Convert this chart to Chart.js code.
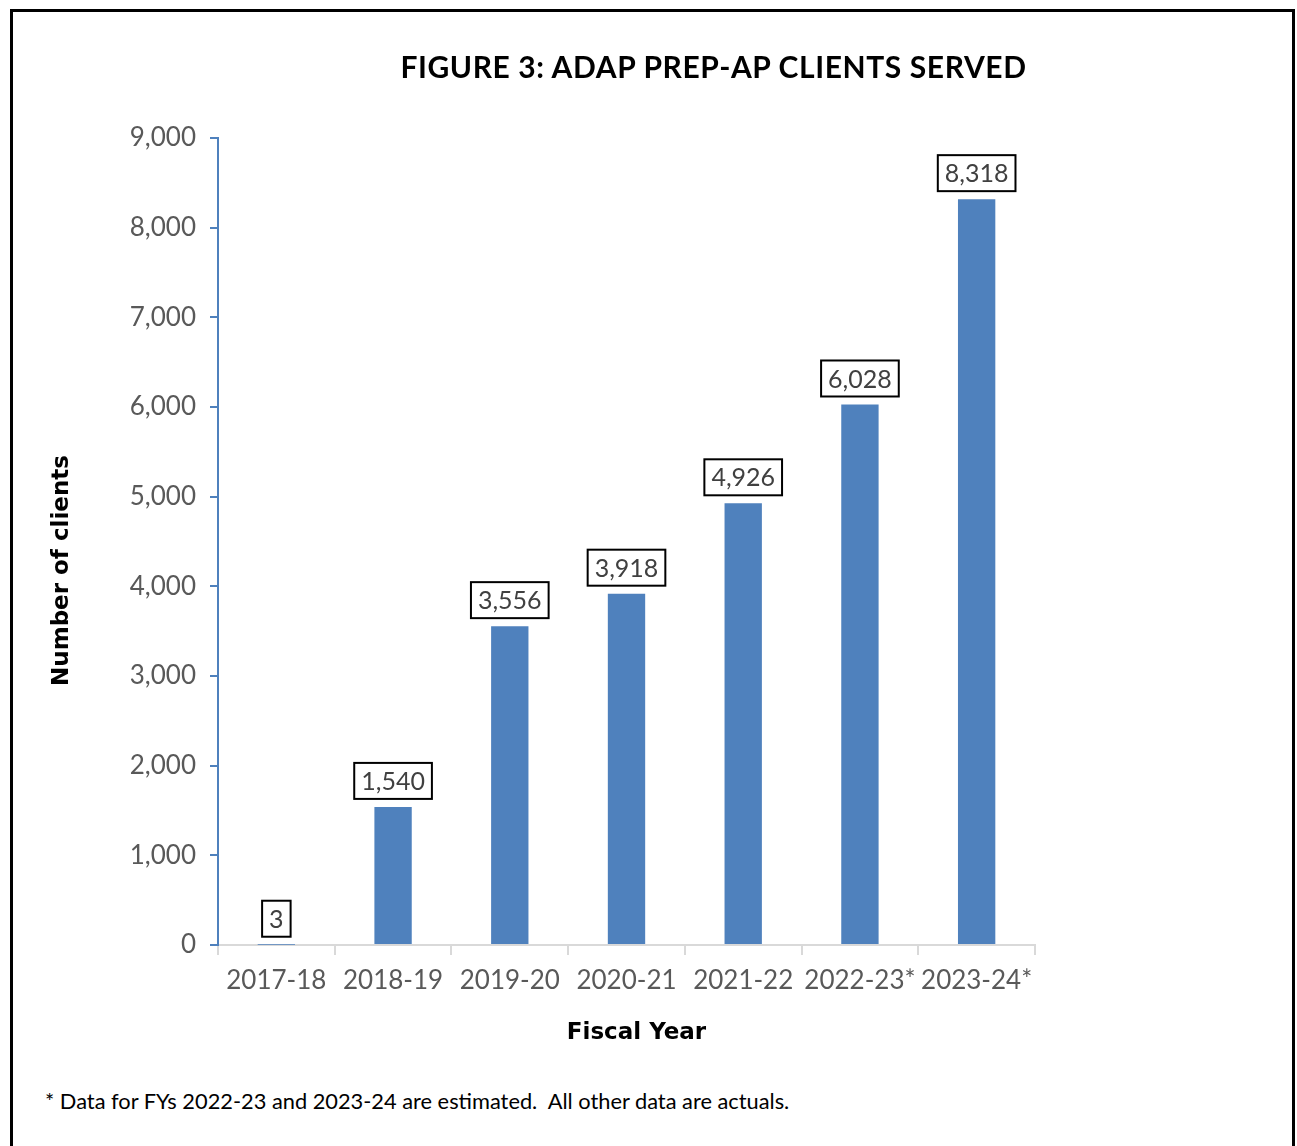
<!DOCTYPE html>
<html>
<head>
<meta charset="utf-8">
<script src="https://cdn.jsdelivr.net/npm/chart.js@4"></script>
<style>
    body { margin: 0; background: #fff; }
    #wrap { position: relative; width: 1297px; height: 1146px; overflow: hidden; }
    #frame {
        position: absolute; left: 10px; top: 9px; width: 1285px; height: 1160px;
        box-sizing: border-box; border: 3px solid #000; border-bottom: none;
    }
    #chartBox { position: absolute; left: 0; top: 0; width: 1297px; height: 1070px; }
    #title {
        position: absolute; left: 391px; top: 48px; width: 645px; text-align: center;
        font: bold 30px Lato, sans-serif; letter-spacing: 0.6px; color: #000; white-space: nowrap;
    }
    #note {
        position: absolute; left: 45px; top: 1087px; white-space: nowrap;
        font: 21.8px Lato, sans-serif; color: #000;
    }
</style>
</head>
<body>
<div id="wrap">
    <div id="frame"></div>
    <div id="chartBox"><canvas id="chart"></canvas></div>
    <div id="title">FIGURE 3: ADAP PREP-AP CLIENTS SERVED</div>
    <div id="note">* Data for FYs 2022-23 and 2023-24 are estimated.&nbsp; All other data are actuals.</div>
</div>
<script>
// Datos del gráfico
const fiscalYears = ['2017-18', '2018-19', '2019-20', '2020-21', '2021-22', '2022-23*', '2023-24*'];
const clientsServed = [3, 1540, 3556, 3918, 4926, 6028, 8318];
const xTitle = 'Fiscal Year';
const yTitle = 'Number of clients';

const barColor = '#4F81BD';
const titleFont = 'bold 23px "DejaVu Sans", sans-serif';

// Etiquetas con recuadro encima de cada barra
const boxedLabels = {
    id: 'boxedLabels',
    afterDatasetsDraw(chart) {
        const ctx = chart.ctx;
        const meta = chart.getDatasetMeta(0);
        ctx.save();
        ctx.font = '25px Lato, sans-serif';
        ctx.textAlign = 'center';
        ctx.textBaseline = 'middle';
        meta.data.forEach((bar, i) => {
            const text = clientsServed[i].toLocaleString('en-US');
            const w = ctx.measureText(text).width + 14;
            const h = 36;
            const bottom = bar.y - 8;
            ctx.lineWidth = 2;
            ctx.strokeStyle = '#000';
            ctx.fillStyle = '#fff';
            ctx.fillRect(bar.x - w / 2, bottom - h, w, h);
            ctx.strokeRect(bar.x - w / 2, bottom - h, w, h);
            ctx.fillStyle = '#404040';
            ctx.fillText(text, bar.x, bottom - h / 2 + 1);
        });
        ctx.restore();
    }
};

// Títulos de los ejes (posición como en la figura original)
const axisTitles = {
    id: 'axisTitles',
    afterDraw(chart) {
        const ctx = chart.ctx;
        const area = chart.chartArea;
        ctx.save();
        ctx.font = titleFont;
        ctx.fillStyle = '#000';
        ctx.textAlign = 'center';
        ctx.textBaseline = 'middle';
        ctx.fillText(xTitle, area.left + (area.right - area.left) / 2 + 10, area.bottom + 88);
        ctx.translate(62, area.top + (area.bottom - area.top) / 2 + 29);
        ctx.rotate(-Math.PI / 2);
        ctx.fillText(yTitle, 0, 0);
        ctx.restore();
    }
};

new Chart(document.getElementById('chart'), {
    type: 'bar',
    data: {
        labels: fiscalYears,
        datasets: [{
            data: clientsServed,
            backgroundColor: barColor,
            categoryPercentage: 1,
            barPercentage: 0.32
        }]
    },
    options: {
        responsive: true,
        maintainAspectRatio: false,
        animation: false,
        layout: { padding: { left: 48, right: 262, top: 138, bottom: 25 } },
        plugins: {
            legend: { display: false },
            tooltip: { enabled: false }
        },
        scales: {
            x: {
                afterFit: scale => { scale.height = 100; },
                border: { color: '#D9D9D9', width: 2 },
                grid: { drawOnChartArea: false, tickLength: 10, color: '#D9D9D9', lineWidth: 2 },
                ticks: { color: '#595959', font: { family: 'Lato', size: 26 }, padding: 10, maxRotation: 0 }
            },
            y: {
                min: 0,
                max: 9000,
                afterFit: scale => { scale.width = 170; },
                border: { color: barColor, width: 2 },
                grid: { drawOnChartArea: false, tickLength: 8, color: barColor, lineWidth: 2 },
                ticks: {
                    stepSize: 1000,
                    color: '#595959',
                    font: { family: 'Lato', size: 26 },
                    padding: 14,
                    callback: v => v.toLocaleString('en-US')
                }
            }
        }
    },
    plugins: [boxedLabels, axisTitles]
});
</script>
</body>
</html>
